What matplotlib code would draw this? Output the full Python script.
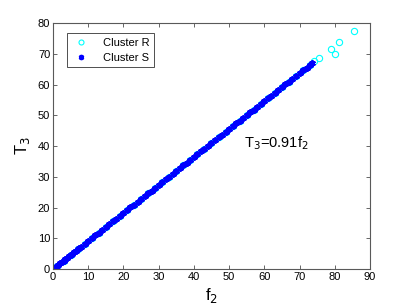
import matplotlib
matplotlib.use('Agg')
import matplotlib.pyplot as plt

plt.rcParams['font.family'] = ['Liberation Sans', 'DejaVu Sans']

# cluster R: circles along the line plus the outliers at the top end
r_f2 = [1, 3, 5, 7, 9, 11, 13, 15, 17, 19, 21, 23, 25, 27, 29, 31, 33, 35, 37,
        39, 41, 43, 45, 47, 49, 51, 53, 55, 57, 59, 61, 63, 65, 67, 69, 71, 73,
        74.2, 75.4, 78.9, 80.1, 81.3, 85.5]
r_t3 = [0.91, 2.73, 4.55, 6.37, 8.19, 10.01, 11.83, 13.65, 15.47, 17.29, 19.11,
        20.93, 22.75, 24.57, 26.39, 28.21, 30.03, 31.85, 33.67, 35.49, 37.31,
        39.13, 40.95, 42.77, 44.59, 46.41, 48.23, 50.05, 51.87, 53.69, 55.51,
        57.33, 59.15, 60.97, 62.79, 64.61, 66.43,
        67.6, 68.6, 71.6, 69.9, 73.8, 77.5]

# cluster S: dense points on T3 = 0.91 f2
s_f2 = [0, 0.5, 1, 1.5, 2, 2.5, 3, 3.5, 4, 4.5, 5, 5.5, 6, 6.5, 7, 7.5, 8, 9,
        10, 11, 12, 13, 14, 15, 16, 17, 18, 19, 20, 21, 22, 23, 24, 25, 26, 27,
        28, 29, 30, 31, 32, 33, 34, 35, 36, 37, 38, 39, 40, 41, 42, 43, 44, 45,
        46, 47, 48, 49, 50, 51, 52, 53, 54, 55, 56, 57, 58, 59, 60, 61, 62, 63,
        64, 65, 66, 67, 68, 69, 70, 71, 72, 73, 73.5]
s_t3 = [0, 0.46, 0.91, 1.37, 1.82, 2.28, 2.73, 3.19, 3.64, 4.1, 4.55, 5.01,
        5.46, 5.92, 6.37, 6.83, 7.28, 8.19, 9.1, 10.01, 10.92, 11.83, 12.74,
        13.65, 14.56, 15.47, 16.38, 17.29, 18.2, 19.11, 20.02, 20.93, 21.84,
        22.75, 23.66, 24.57, 25.48, 26.39, 27.3, 28.21, 29.12, 30.03, 30.94,
        31.85, 32.76, 33.67, 34.58, 35.49, 36.4, 37.31, 38.22, 39.13, 40.04,
        40.95, 41.86, 42.77, 43.68, 44.59, 45.5, 46.41, 47.32, 48.23, 49.14,
        50.05, 50.96, 51.87, 52.78, 53.69, 54.6, 55.51, 56.42, 57.33, 58.24,
        59.15, 60.06, 60.97, 61.88, 62.79, 63.7, 64.61, 65.52, 66.43, 66.9]

x_ticks = list(range(0, 91, 10))
y_ticks = list(range(0, 81, 10))

fig = plt.figure(figsize=(4.09, 3.08), dpi=100)
ax = fig.add_axes([0.1296, 0.1266, 0.775, 0.7987])

ax.plot(r_f2, r_t3, 'o', color='cyan', mfc='none', markersize=4.5,
        markeredgewidth=0.8, label='Cluster R')
ax.plot(s_f2, s_t3, linestyle='none', marker=(6, 2, 0), color='blue',
        markersize=4.8, markeredgewidth=1.3, label='Cluster S')

ax.set_xlim(0, 90)
ax.set_ylim(0, 80)
ax.set_xticks(x_ticks)
ax.set_yticks(y_ticks)
ax.tick_params(direction='in', length=3, width=0.6, labelsize=8,
               top=True, right=True, colors='0.3', labelcolor='black', pad=2)
for s in ax.spines.values():
    s.set_color('0.35')
    s.set_linewidth(0.8)

ax.set_xlabel('f$_2$', fontsize=12, labelpad=3)
ax.set_ylabel('T$_3$', fontsize=12, labelpad=4)
ax.text(54.2, 41, 'T$_3$=0.91f$_2$', fontsize=10.5, va='center', ha='left')

leg = ax.legend(loc='upper left', bbox_to_anchor=(0.044, 0.959),
                borderaxespad=0, fontsize=8, frameon=True, fancybox=False,
                handletextpad=1.0, borderpad=0.4, labelspacing=0.45,
                handlelength=1.8, markerscale=0.8)
leg.get_frame().set_edgecolor('black')
leg.get_frame().set_linewidth(0.6)

fig.savefig('out.png', dpi=100)
